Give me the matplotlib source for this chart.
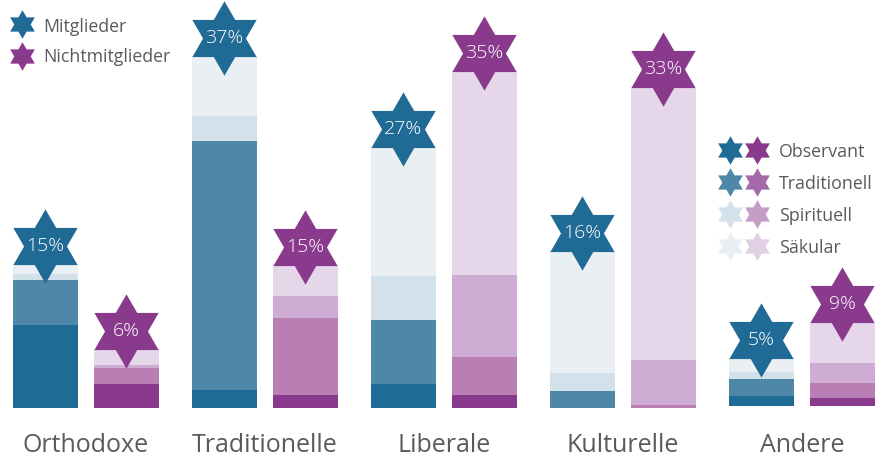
import numpy as np
import matplotlib
matplotlib.use('Agg')
import matplotlib.pyplot as plt
from matplotlib.path import Path

W, H = 889, 459

groups = ['Orthodoxe', 'Traditionelle', 'Liberale', 'Kulturelle', 'Andere']
layers = ['Observant', 'Traditionell', 'Spirituell', 'Säkular']

# heights in percent (Observant, Traditionell, Spirituell, Säkular)
mitglieder = [
    [8.7, 4.75, 0.6, 1.0],
    [1.9, 26.2, 2.6, 6.3],
    [2.5, 6.75, 4.6, 13.5],
    [0.0, 1.8, 1.9, 12.8],
    [1.05, 1.8, 0.75, 1.4],
]
nichtmitglieder = [
    [2.5, 1.7, 0.3, 1.7],
    [1.4, 8.1, 2.3, 3.2],
    [1.4, 4.0, 8.6, 21.4],
    [0.0, 0.3, 4.7, 28.7],
    [0.85, 1.6, 2.1, 4.2],
]
labels_m = ['15%', '37%', '27%', '16%', '5%']
labels_n = ['6%', '15%', '35%', '33%', '9%']

blues = ['#206a96', '#4f87a9', '#d3e1ea', '#eaeff3']
purples = ['#8a3a8c', '#b97fb5', '#cfacd4', '#e5d6e9']
legend_purples = ['#8a3a8c', '#a56aa8', '#c39dc6', '#e1cfe4']
grey = '#5a5a5a'
font = ['Open Sans', 'DejaVu Sans']

px_per_pct = 9.51
baseline = 408
pitch = 179
bar_w = 65
first_m = 45.5
first_n = 126.5

# the star marker
angles = np.deg2rad(np.arange(0, 360, 60) + 90)
outer = np.c_[np.cos(angles), np.sin(angles)]
inner = np.c_[np.cos(angles + np.pi / 6), np.sin(angles + np.pi / 6)] / np.sqrt(3)
verts = np.empty((13, 2))
verts[0:12:2] = outer
verts[1:12:2] = inner
verts[12] = outer[0]
star = Path(verts, closed=True)

fig = plt.figure(figsize=(W / 100, H / 100), dpi=100)
ax = fig.add_axes([0, 0, 1, 1])
ax.set_xlim(0, W)
ax.set_ylim((baseline - H) / px_per_pct, baseline / px_per_pct)
ax.axis('off')


def px_y(y):
    return (baseline - y) / px_per_pct


def draw_bars(x0, table, colors, labels):
    for i, row in enumerate(table):
        x = x0 + i * pitch
        # last group sits a bit higher in the original
        bottom = px_y(406) if i == 4 else 0
        for val, col in zip(row, colors):
            ax.bar(x, val, bottom=bottom, width=bar_w, color=col, linewidth=0, zorder=2)
            bottom += val
        cy = bottom + 18.5 / px_per_pct
        ax.plot([x - 0.5], [cy], marker=star, ms=53.5, color=colors[0], mew=0, zorder=3, clip_on=False)
        ax.text(x - 0.5, cy, labels[i], color='white', fontsize=14, ha='center', va='center',
                family=font, weight='light', zorder=4)


draw_bars(first_m, mitglieder, blues, labels_m)
draw_bars(first_n, nichtmitglieder, purples, labels_n)

# group names
for i, name in enumerate(groups):
    x = (first_m + first_n) / 2 + i * pitch
    ax.text(x, px_y(446), name, color=grey, fontsize=18, ha='center', va='center', family=font)

# legend top left
for y, ty, col, name in zip([24, 55.5], [27, 57], [blues[0], purples[0]], ['Mitglieder', 'Nichtmitglieder']):
    ax.plot([22], [px_y(y)], marker=star, ms=20.5, color=col, mew=0)
    ax.text(43, px_y(ty), name, color=grey, fontsize=12.8, va='center', family=font)

# legend right
for k, name in enumerate(layers):
    y = 150 + k * 32
    ax.plot([730], [px_y(y)], marker=star, ms=20.5, color=blues[k], mew=0)
    ax.plot([757], [px_y(y)], marker=star, ms=20.5, color=legend_purples[k], mew=0)
    ax.text(779, px_y(y + 2), name, color=grey, fontsize=12.8, va='center', family=font)

fig.savefig('out.png', dpi=100)
